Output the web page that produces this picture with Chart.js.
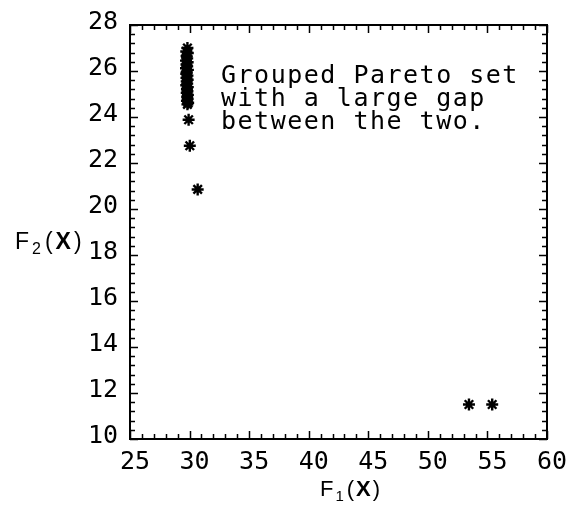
<!DOCTYPE html>
<html>
<head>
<meta charset="utf-8">
<script src="https://cdn.jsdelivr.net/npm/chart.js@4/dist/chart.umd.min.js"></script>
<style>
  html, body { margin: 0; padding: 0; background: #fff; }
  #wrap { width: 574px; height: 510px; }
</style>
</head>
<body>
<div id="wrap"><canvas id="c" width="574" height="510"></canvas></div>
<script>
// Objective values of the Pareto set: F1(X) and F2(X)
const f1Values = [
  29.82, 29.72, 29.85, 29.75, 29.80, 29.70, 29.84, 29.74, 29.80, 29.70,
  29.86, 29.76, 29.72, 29.82, 29.74, 29.84, 29.76, 29.80, 29.72, 29.85,
  29.78, 29.82, 29.76, 29.86, 29.80, 29.84, 29.78, 29.88, 29.82,
  29.92, 30.02, 30.68, 53.45, 55.40
];
const f2Values = [
  27.00, 26.85, 26.78, 26.65, 26.55, 26.45, 26.38, 26.28, 26.20, 26.12,
  26.05, 25.96, 25.88, 25.80, 25.70, 25.62, 25.55, 25.45, 25.38, 25.30,
  25.22, 25.12, 25.05, 24.96, 24.88, 24.78, 24.70, 24.62, 24.55,
  23.88, 22.75, 20.85, 11.50, 11.50
];

// Axis ranges and tick steps
const xRange = [25, 60];
const yRange = [10, 28];
const xMajorStep = 5;
const yMajorStep = 2;
const minorPerMajor = 5;

const noteLines = ['Grouped Pareto set', 'with a large gap', 'between the two.'];

const MONO = '"DejaVu Sans Mono", "Liberation Mono", monospace';
const SANS = '"Liberation Sans", Arial, sans-serif';

const points = f1Values.map((v, i) => ({ x: v, y: f2Values[i] }));

// Spaced-out text like a plotter font
const spacing = {
  id: 'spacing',
  beforeInit(chart) { chart.ctx.letterSpacing = '1.5px'; }
};

// Frame with inward ticks on all four sides
const frameTicks = {
  id: 'frameTicks',
  beforeDatasetsDraw(chart) {
    const { ctx, chartArea: a, scales: { x, y } } = chart;
    ctx.save();
    ctx.strokeStyle = '#000';
    ctx.lineWidth = 1.5;
    ctx.beginPath();
    const xMinor = xMajorStep / minorPerMajor;
    const nx = Math.round((xRange[1] - xRange[0]) / xMinor);
    for (let i = 0; i <= nx; i++) {
      const px = Math.round(x.getPixelForValue(xRange[0] + i * xMinor)) + 0.5;
      const len = i % minorPerMajor === 0 ? 8 : 5;
      ctx.moveTo(px, a.bottom); ctx.lineTo(px, a.bottom - len);
      ctx.moveTo(px, a.top); ctx.lineTo(px, a.top + len);
    }
    const yMinor = yMajorStep / minorPerMajor;
    const ny = Math.round((yRange[1] - yRange[0]) / yMinor);
    for (let i = 0; i <= ny; i++) {
      const py = Math.round(y.getPixelForValue(yRange[0] + i * yMinor)) + 0.5;
      const len = i % minorPerMajor === 0 ? 8 : 5;
      ctx.moveTo(a.left, py); ctx.lineTo(a.left + len, py);
      ctx.moveTo(a.right, py); ctx.lineTo(a.right - len, py);
    }
    ctx.stroke();
    ctx.lineWidth = 2;
    ctx.strokeRect(a.left, a.top, a.right - a.left, a.bottom - a.top);
    ctx.restore();
  }
};

// Axis titles F1(X), F2(X) and the note inside the plot
function drawTitle(ctx, sub, left, baseline, size, gap) {
  let cx = left;
  const subSize = Math.round(size * 0.68);
  ctx.font = size + 'px ' + SANS;
  ctx.fillText('F', cx, baseline); cx += ctx.measureText('F').width + gap;
  ctx.font = subSize + 'px ' + SANS;
  ctx.fillText(sub, cx, baseline + 5); cx += ctx.measureText(sub).width + gap + 1;
  ctx.font = size + 'px ' + SANS;
  ctx.fillText('(', cx, baseline); cx += ctx.measureText('(').width + gap;
  ctx.font = 'bold ' + size + 'px ' + SANS;
  ctx.fillText('X', cx, baseline); cx += ctx.measureText('X').width + gap;
  ctx.font = size + 'px ' + SANS;
  ctx.fillText(')', cx, baseline);
}

const labels = {
  id: 'labels',
  afterDraw(chart) {
    const { ctx } = chart;
    ctx.save();
    ctx.fillStyle = '#000';
    ctx.textAlign = 'left';
    ctx.textBaseline = 'alphabetic';
    ctx.letterSpacing = '1px';
    drawTitle(ctx, '2', 15, 249, 23, 2);
    drawTitle(ctx, '1', 320, 496, 22, 1);
    ctx.letterSpacing = '1.5px';
    ctx.font = '25px ' + MONO;
    noteLines.forEach((t, i) => ctx.fillText(t, 221, 83 + i * 23));
    ctx.restore();
  }
};

new Chart(document.getElementById('c'), {
  type: 'scatter',
  data: {
    datasets: [{
      data: points,
      pointStyle: 'star',
      radius: 6,
      hoverRadius: 6,
      borderWidth: 2.4,
      borderColor: '#000',
      backgroundColor: '#000'
    }]
  },
  options: {
    responsive: false,
    animation: false,
    events: [],
    layout: { padding: { left: 0, top: 25, right: 27, bottom: 0 } },
    plugins: { legend: { display: false }, tooltip: { enabled: false } },
    scales: {
      x: {
        type: 'linear',
        min: xRange[0], max: xRange[1],
        grid: { display: false },
        border: { display: false },
        ticks: {
          stepSize: xMajorStep,
          color: '#000',
          padding: 0,
          labelOffset: 5,
          maxRotation: 0,
          autoSkip: false,
          font: { family: MONO, size: 25 }
        },
        afterFit(scale) { scale.height = 71; }
      },
      y: {
        type: 'linear',
        min: yRange[0], max: yRange[1],
        grid: { display: false },
        border: { display: false },
        ticks: {
          stepSize: yMajorStep,
          color: '#000',
          padding: 4,
          labelOffset: -3,
          autoSkip: false,
          font: { family: MONO, size: 25 }
        },
        afterFit(scale) { scale.width = 130; }
      }
    }
  },
  plugins: [spacing, frameTicks, labels]
});
</script>
</body>
</html>
